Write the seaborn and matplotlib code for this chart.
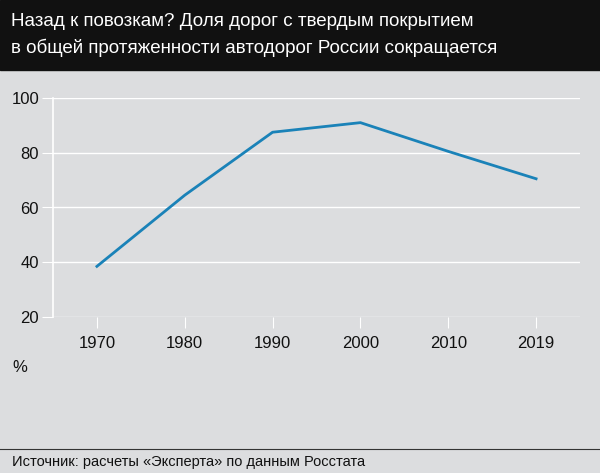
import matplotlib
matplotlib.use("Agg")
import matplotlib.pyplot as plt
import seaborn as sns
import pandas as pd

years = ["1970", "1980", "1990", "2000", "2010", "2019"]
share = [38.5, 64.5, 87.5, 91.0, 80.5, 70.5]
yticks = [20, 40, 60, 80, 100]

plt.rcParams["font.family"] = ["Liberation Sans Narrow", "Liberation Sans", "DejaVu Sans"]
bg = "#dcdddf"
fig = plt.figure(figsize=(6, 4.73), dpi=100, facecolor=bg)
# header band
fig.patches.append(plt.Rectangle((0, 1 - 70/473), 1, 70/473, transform=fig.transFigure, color="#111111", zorder=0))
fig.text(0.018, 1 - 22/473, "Назад к повозкам? Доля дорог с твердым покрытием", color="white", fontsize=13.5, va="center")
fig.text(0.018, 1 - 48/473, "в общей протяженности автодорог России сокращается", color="white", fontsize=13.5, va="center")

ax = fig.add_axes([53/600, 156/473, 527/600, 219/473])
ax.set_facecolor(bg)
df = pd.DataFrame({"x": range(len(years)), "y": share})
sns.lineplot(data=df, x="x", y="y", ax=ax, color="#1a82b8", linewidth=2)
ax.set_xlim(-0.5, 5.5)
ax.set_ylim(20, 100)
ax.set_yticks(yticks)
ax.set_yticklabels([str(v) for v in yticks], fontsize=12)
ax.set_xticks(range(len(years)))
ax.set_xticklabels(years, fontsize=12)
ax.grid(axis="y", color="white", linewidth=1)
ax.set_axisbelow(True)
for s in ["top", "right", "bottom"]:
    ax.spines[s].set_visible(False)
ax.spines["left"].set_color("white")
ax.spines["left"].set_linewidth(1.2)
ax.tick_params(axis="y", length=8, color="white", pad=2, labelcolor="#111111")
ax.tick_params(axis="x", length=8, color="white", pad=6, labelcolor="#111111")
ax.set_xlabel("")
ax.set_ylabel("")
fig.text(12/600, 1 - 367/473, "%", fontsize=12, va="center", color="#111111")
fig.add_artist(plt.Line2D([0, 1], [1 - 449/473] * 2, transform=fig.transFigure, color="#333333", linewidth=0.8))
fig.text(12/600, 1 - 462/473, "Источник: расчеты «Эксперта» по данным Росстата", fontsize=10.5, va="center", color="#111111")
fig.savefig("out.png", dpi=100, facecolor=bg)
